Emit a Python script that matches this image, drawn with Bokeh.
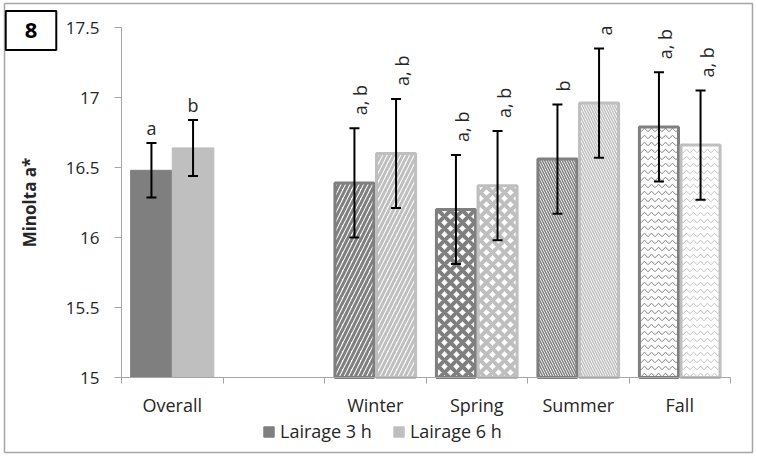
import math
from bokeh.plotting import figure
from bokeh.models import (Range1d, LinearAxis, FixedTicker, CustomJSTickFormatter,
                          NumeralTickFormatter, Whisker, TeeHead, LabelSet, ColumnDataSource,
                          Legend, LegendItem, Label)
from bokeh.embed import file_html
from bokeh.resources import INLINE
from bokeh.core.properties import value

# ---------------- data ----------------
categories = ["Overall", " ", "Winter", "Spring", "Summer", "Fall"]
groups = ["Overall", "Winter", "Spring", "Summer", "Fall"]
mean_3h = [16.48, 16.39, 16.20, 16.56, 16.79]
mean_6h = [16.64, 16.60, 16.37, 16.96, 16.66]
err_3h = [0.195, 0.39, 0.39, 0.39, 0.39]
err_6h = [0.20, 0.39, 0.39, 0.39, 0.39]
letters_3h = ["a", "a, b", "a, b", "b", "a, b"]
letters_6h = ["b", "a, b", "a, b", "a", "a, b"]
y_ticks = [15, 15.5, 16, 16.5, 17, 17.5]
y_min, y_max = 15, 17.5
series_names = ["Lairage 3 h", "Lairage 6 h"]
y_title = "Minolta a*"
panel_tag = "8"

# ---------------- styles / layout ----------------
C3 = "#7f7f7f"
C6 = "#bfbfbf"
AX = "#a6a6a6"
TXT = "#262626"
FONT = "Open Sans"
season_hatch = {"Winter": ("/", 9, 3.0), "Spring": ("x", 12, 4.0),
                "Summer": ("\\", 5, 1.5), "Fall": ("v", 7, 1.0)}
OFF = 0.205
W, H = 756, 455                      # canvas
FL, FT, FR, FB = 4, 3, 752, 452      # outer frame (border) in page px
AL, AR, AT, AB = 121, 730, 27, 377   # plotting area edges in page px

n = len(categories)
xpp = n / (AR - AL)
ypp = (y_max - y_min) / (AB - AT)
center = {c: i + 0.5 for i, c in enumerate(categories)}


def make_source(idx):
    gs = [groups[i] for i in idx]
    d = dict(
        x3=[center[g] - OFF for g in gs], x6=[center[g] + OFF for g in gs],
        m3=[mean_3h[i] for i in idx], m6=[mean_6h[i] for i in idx],
        u3=[mean_3h[i] + err_3h[i] for i in idx], l3=[mean_3h[i] - err_3h[i] for i in idx],
        u6=[mean_6h[i] + err_6h[i] for i in idx], l6=[mean_6h[i] - err_6h[i] for i in idx],
        t3=[letters_3h[i] for i in idx], t6=[letters_6h[i] for i in idx])
    if gs[0] in season_hatch:
        d["pat"] = [season_hatch[g][0] for g in gs]
        d["hs"] = [season_hatch[g][1] for g in gs]
        d["hw"] = [season_hatch[g][2] for g in gs]
    return ColumnDataSource(d)


ov = make_source([0])
se = make_source([1, 2, 3, 4])

p = figure(width=W, height=H,
           x_range=Range1d(-(AL - FL) * xpp, n + (FR - AR) * xpp),
           y_range=Range1d(y_min - (FB - AB) * ypp, y_max + (AT - FT) * ypp),
           output_backend="svg", toolbar_location=None,
           x_axis_location=None, y_axis_location=None,
           min_border_left=FL, min_border_top=FT,
           min_border_right=W - FR, min_border_bottom=H - FB)
p.grid.visible = False
p.outline_line_color = AX
p.outline_line_width = 1.5

# y axis
yaxis = LinearAxis(fixed_location=0, bounds=(y_min, y_max),
                   ticker=FixedTicker(ticks=y_ticks),
                   formatter=NumeralTickFormatter(format="0.[0]"),
                   axis_label=y_title, axis_label_text_font=FONT,
                   axis_label_text_font_style="bold", axis_label_text_font_size="17px",
                   axis_label_text_color=TXT, axis_label_standoff=22,
                   major_label_text_font=FONT, major_label_text_font_size="17px",
                   major_label_text_color=TXT, major_label_standoff=15,
                   major_tick_out=7, major_tick_in=0, minor_tick_out=0, minor_tick_in=0,
                   axis_line_color=AX, major_tick_line_color=AX)
p.add_layout(yaxis, "left")

# x axis: boundary ticks + category labels
tick_axis = LinearAxis(fixed_location=y_min, bounds=(0, n),
                       ticker=FixedTicker(ticks=list(range(n + 1))),
                       formatter=CustomJSTickFormatter(code="return ''"),
                       major_tick_out=6, major_tick_in=0, minor_tick_out=0, minor_tick_in=0,
                       axis_line_color=AX, major_tick_line_color=AX)
p.add_layout(tick_axis, "below")
cat_axis = LinearAxis(fixed_location=y_min,
                      ticker=FixedTicker(ticks=[center[c] for c in categories]),
                      major_label_overrides={center[c]: c for c in categories},
                      axis_line_color=None, major_tick_line_color=None,
                      minor_tick_line_color=None,
                      major_label_text_font=FONT, major_label_text_font_size="18px",
                      major_label_text_color=TXT, major_label_standoff=9)
p.add_layout(cat_axis, "below")

# overall bars (solid)
r3 = p.vbar(x="x3", top="m3", bottom=y_min, width=0.41,
            source=ov, fill_color=C3, line_color=C3)
r6 = p.vbar(x="x6", top="m6", bottom=y_min, width=0.41,
            source=ov, fill_color=C6, line_color=C6)

# season bars (hatched)
p.vbar(x="x3", top="m3", bottom=y_min, width=0.385,
       source=se, fill_color="white", line_color=C3, line_width=3,
       hatch_pattern="pat", hatch_scale="hs", hatch_weight="hw", hatch_color=C3)
p.vbar(x="x6", top="m6", bottom=y_min, width=0.385,
       source=se, fill_color="white", line_color=C6, line_width=3,
       hatch_pattern="pat", hatch_scale="hs", hatch_weight="hw", hatch_color=C6)

# error bars
for src in (ov, se):
    for xb, u, l in (("x3", "u3", "l3"), ("x6", "u6", "l6")):
        w = Whisker(source=src, base=xb, upper=u, lower=l,
                    line_color="black", line_width=2, level="annotation",
                    upper_head=TeeHead(size=10, line_width=2, line_color="black"),
                    lower_head=TeeHead(size=10, line_width=2, line_color="black"))
        p.add_layout(w)

# letters
for xb, u, t in (("x3", "u3", "t3"), ("x6", "u6", "t6")):
    p.add_layout(LabelSet(source=ov, x=xb, y=u, text=t,
                          text_align="center", text_baseline="alphabetic", y_offset=8,
                          text_font=value(FONT), text_font_size="18px", text_color=TXT))
    p.add_layout(LabelSet(source=se, x=xb, y=u, text=t,
                          angle=math.pi / 2, text_align="left", text_baseline="middle",
                          y_offset=13, x_offset=6,
                          text_font=value(FONT), text_font_size="18px", text_color=TXT))

# legend
legend = Legend(items=[LegendItem(label=series_names[0], renderers=[r3]),
                       LegendItem(label=series_names[1], renderers=[r6])],
                orientation="horizontal", location=(258, 9),
                border_line_color=None, background_fill_alpha=0,
                glyph_width=13, glyph_height=13, label_standoff=5, spacing=20,
                padding=0, margin=0, label_text_font=FONT, label_text_font_size="18px",
                label_text_color=TXT)
p.add_layout(legend, "center")

# panel tag box
p.add_layout(Label(x=26.5, y=(FB - FT) - 27, x_units="screen", y_units="screen",
                   text=panel_tag,
                   text_align="center", text_baseline="middle", text_font=FONT,
                   text_font_style="bold", text_font_size="22px", text_color="black",
                   border_line_color="black", border_line_width=2,
                   background_fill_color="white",
                   padding=dict(left=19, right=19, top=12, bottom=12)))

open("out.html", "w").write(file_html(p, INLINE))
